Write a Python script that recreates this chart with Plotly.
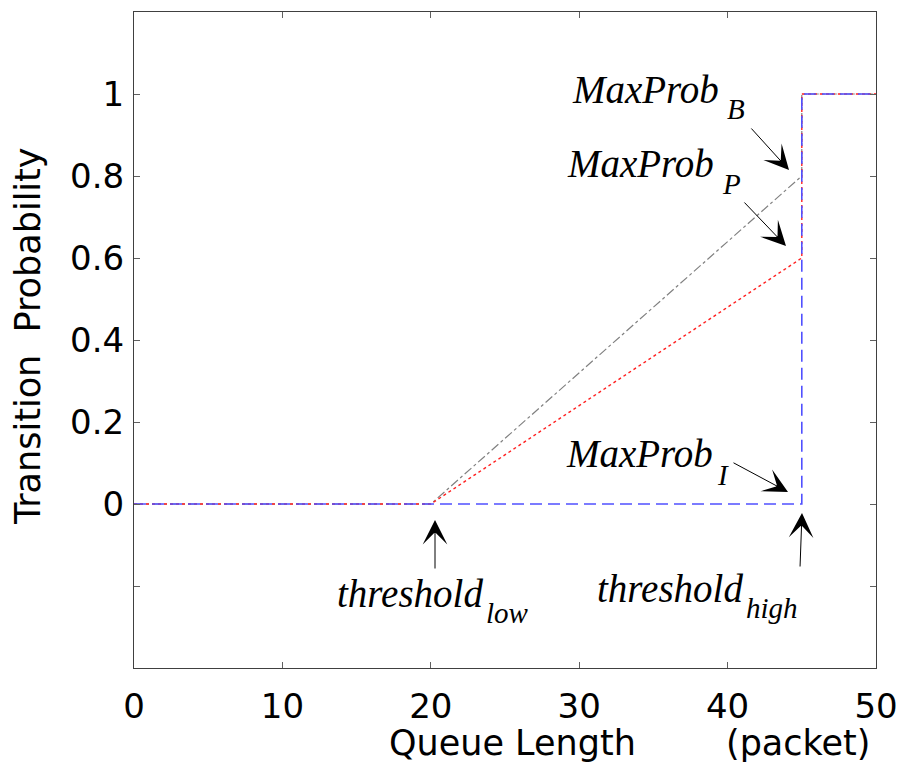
import plotly.graph_objects as go

# ---- data ----
x_blue = [0, 45, 45, 50]
y_blue = [0, 0, 1, 1]
x_red = [0, 20, 45, 45, 50]
y_red = [0, 0, 0.6, 1, 1]
x_gray = [0, 20, 45, 45, 50]
y_gray = [0, 0, 0.8, 1, 1]

x_ticks = [0, 10, 20, 30, 40, 50]
y_ticks = [-0.2, 0, 0.2, 0.4, 0.6, 0.8, 1]
y_ticktext = ["", "0", "0.2", "0.4", "0.6", "0.8", "1"]

# label texts with subscripts
label_main = ["MaxProb", "MaxProb", "MaxProb", "threshold", "threshold"]
label_sub = ["B", "P", "I", "high", "low"]

# ---- layout geometry (pixels) ----
W, H = 900, 765
L, R, T, B = 134, 24, 12, 97
XR = [0, 50]
YR = [-0.4, 1.2]
pw, ph = W - L - R, H - T - B


def px2x(px):
    return XR[0] + (px - L) / pw * (XR[1] - XR[0])


def py2y(py):
    return YR[1] - (py - T) / ph * (YR[1] - YR[0])


MAIN_SIZE, SUB_SIZE = 39, 29
# (left px, baseline px) for main text and subscript
main_pos = [(571, 103), (566, 177), (565, 467), (596, 602), (336, 607)]
sub_pos = [(726, 119), (721, 194), (716, 485), (745, 618), (485, 623)]
# arrows (tip px, tail px)
arrow_px = [
    ((789, 170), (750, 127)),
    ((786, 246), (743, 201)),
    ((788, 492), (732, 462)),
    ((802, 513), (800, 568)),
    ((435, 520), (435, 570)),
]

fig = go.Figure()
fig.add_trace(go.Scatter(x=x_gray, y=y_gray, mode="lines",
                         line=dict(color="#808080", width=1.2, dash="dashdot")))
fig.add_trace(go.Scatter(x=x_red, y=y_red, mode="lines",
                         line=dict(color="#ff2020", width=1.4, dash="dot")))
fig.add_trace(go.Scatter(x=x_blue, y=y_blue, mode="lines",
                         line=dict(color="#5050ff", width=1.6, dash="12px,6px")))

sans = "DejaVu Sans, Arial, sans-serif"
serif = "Liberation Serif, Times New Roman, serif"

annots = []
for (t, (lx, bl)) in zip(label_main, main_pos):
    annots.append(dict(text=t, x=px2x(lx), y=py2y(bl - 0.34 * MAIN_SIZE),
                       xref="x", yref="y", showarrow=False,
                       xanchor="left", yanchor="middle", borderpad=0,
                       font=dict(family=serif, size=MAIN_SIZE, color="black",
                                 style="italic")))
for (t, (lx, bl)) in zip(label_sub, sub_pos):
    annots.append(dict(text=t, x=px2x(lx), y=py2y(bl - 0.34 * SUB_SIZE),
                       xref="x", yref="y", showarrow=False,
                       xanchor="left", yanchor="middle", borderpad=0,
                       font=dict(family=serif, size=SUB_SIZE, color="black",
                                 style="italic")))
for (tip, tail) in arrow_px:
    annots.append(dict(text="", x=px2x(tip[0]), y=py2y(tip[1]),
                       ax=px2x(tail[0]), ay=py2y(tail[1]), xref="x", yref="y",
                       axref="x", ayref="y", showarrow=True, arrowhead=3,
                       arrowsize=4.1, arrowwidth=1, arrowcolor="black", standoff=0))
annots.append(dict(text="Queue Length", x=(512 - L) / pw, y=(T + ph - 743) / ph,
                   xref="paper", yref="paper", showarrow=False,
                   xanchor="center", yanchor="middle",
                   font=dict(family=sans, size=35, color="black")))
annots.append(dict(text="(packet)", x=(798 - L) / pw, y=(T + ph - 743) / ph,
                   xref="paper", yref="paper", showarrow=False,
                   xanchor="center", yanchor="middle",
                   font=dict(family=sans, size=35, color="black")))
annots.append(dict(text="Transition\u00a0\u00a0Probability", x=(28 - L) / pw,
                   y=(T + ph - 336) / ph, xref="paper", yref="paper", showarrow=False,
                   textangle=-90, xanchor="center", yanchor="middle",
                   font=dict(family=sans, size=35, color="black")))

axis_common = dict(showline=True, linecolor="#404040", linewidth=1, mirror="ticks",
                   ticks="inside", ticklen=6, tickcolor="#606060", tickwidth=1,
                   showgrid=False, zeroline=False, automargin=False,
                   tickfont=dict(family=sans, size=34, color="black"))

fig.update_layout(
    width=W, height=H,
    margin=dict(l=L, r=R, t=T, b=B, autoexpand=False),
    plot_bgcolor="white", paper_bgcolor="white",
    showlegend=False,
    xaxis=dict(range=XR, tickvals=x_ticks, ticklabelstandoff=8, **axis_common),
    yaxis=dict(range=YR, tickvals=y_ticks, ticktext=y_ticktext,
               ticklabelstandoff=2, **axis_common),
    annotations=annots,
)

fig.write_html("out.html")
